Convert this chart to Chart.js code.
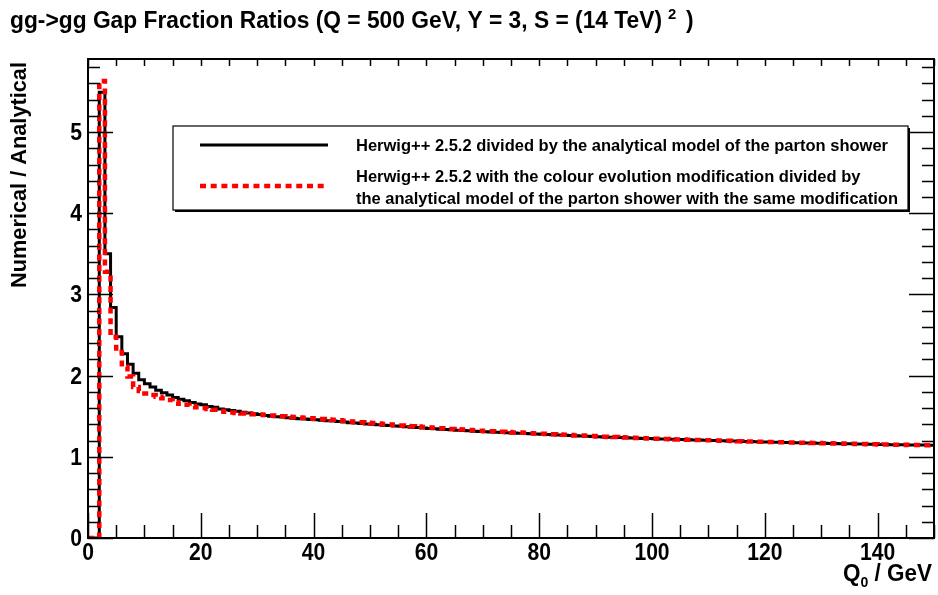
<!DOCTYPE html>
<html>
<head>
<meta charset="utf-8">
<title>gg->gg Gap Fraction Ratios</title>
<script src="https://cdn.jsdelivr.net/npm/chart.js@4.4.1/dist/chart.umd.min.js"></script>
<style>
  html, body { margin: 0; padding: 0; background: #fff; }
  #wrap { width: 938px; height: 595px; }
</style>
</head>
<body>
<div id="wrap"><canvas id="chart" width="938" height="595"></canvas></div>
<script>
// Q0 binning: 1 GeV bins from 0 to 150 GeV
const qMax = 150;
const qBinLow = Array.from({ length: qMax }, (_, i) => i);

// Herwig++ 2.5.2 / analytical parton shower model
const herwigRatio = [
  0, 0, 5.49, 3.50, 2.84, 2.48, 2.27, 2.14, 2.03, 1.95,
  1.90, 1.86, 1.82, 1.79, 1.76, 1.73, 1.71, 1.69, 1.67, 1.65,
  1.64, 1.62, 1.61, 1.59, 1.58, 1.57, 1.56, 1.55, 1.54, 1.53,
  1.52, 1.51, 1.50, 1.495, 1.49, 1.48, 1.475, 1.47, 1.465, 1.46,
  1.455, 1.45, 1.445, 1.44, 1.435, 1.43, 1.42, 1.415, 1.41, 1.405,
  1.40, 1.395, 1.39, 1.385, 1.38, 1.375, 1.37, 1.365, 1.36, 1.355,
  1.35, 1.345, 1.34, 1.336, 1.332, 1.328, 1.324, 1.32, 1.316, 1.312,
  1.308, 1.305, 1.302, 1.299, 1.296, 1.293, 1.29, 1.287, 1.284, 1.281,
  1.278, 1.275, 1.272, 1.269, 1.266, 1.263, 1.26, 1.257, 1.254, 1.251,
  1.248, 1.245, 1.242, 1.24, 1.237, 1.235, 1.232, 1.23, 1.227, 1.225,
  1.222, 1.22, 1.218, 1.216, 1.214, 1.212, 1.21, 1.208, 1.206, 1.204,
  1.202, 1.20, 1.198, 1.196, 1.194, 1.192, 1.19, 1.188, 1.186, 1.184,
  1.182, 1.18, 1.179, 1.177, 1.176, 1.174, 1.173, 1.171, 1.17, 1.168,
  1.167, 1.165, 1.164, 1.162, 1.161, 1.16, 1.158, 1.157, 1.156, 1.154,
  1.153, 1.152, 1.15, 1.149, 1.148, 1.147, 1.146, 1.145, 1.144, 1.143
];

// Herwig++ 2.5.2 with colour evolution / analytical model with the same modification
const colourEvoRatio = [
  0, 0, 5.63, 3.28, 2.48, 2.29, 2.11, 1.99, 1.86, 1.81,
  1.78, 1.76, 1.74, 1.72, 1.70, 1.675, 1.655, 1.64, 1.625, 1.61,
  1.60, 1.59, 1.58, 1.565, 1.555, 1.545, 1.54, 1.535, 1.53, 1.525,
  1.52, 1.515, 1.51, 1.505, 1.50, 1.495, 1.49, 1.485, 1.48, 1.475,
  1.47, 1.465, 1.46, 1.455, 1.45, 1.445, 1.435, 1.43, 1.425, 1.42,
  1.415, 1.41, 1.403, 1.398, 1.392, 1.387, 1.381, 1.377, 1.372, 1.367,
  1.362, 1.357, 1.352, 1.348, 1.344, 1.339, 1.335, 1.331, 1.327, 1.322,
  1.318, 1.315, 1.312, 1.308, 1.305, 1.301, 1.298, 1.295, 1.291, 1.288,
  1.285, 1.281, 1.278, 1.275, 1.271, 1.268, 1.264, 1.261, 1.258, 1.255,
  1.251, 1.248, 1.245, 1.243, 1.24, 1.237, 1.234, 1.232, 1.229, 1.226,
  1.223, 1.221, 1.219, 1.217, 1.214, 1.212, 1.211, 1.208, 1.206, 1.205,
  1.203, 1.20, 1.198, 1.197, 1.194, 1.193, 1.19, 1.189, 1.186, 1.185,
  1.182, 1.181, 1.178, 1.178, 1.175, 1.175, 1.172, 1.172, 1.169, 1.169,
  1.166, 1.166, 1.163, 1.163, 1.16, 1.161, 1.158, 1.158, 1.155, 1.156,
  1.152, 1.153, 1.15, 1.15, 1.147, 1.148, 1.145, 1.145, 1.142, 1.143
];

// axis ticks
const xTickLabels = [0, 20, 40, 60, 80, 100, 120, 140];
const yTickLabels = [0, 1, 2, 3, 4, 5];
const yMax = 5.9;

const titleText = 'gg->gg Gap Fraction Ratios (Q = 500 GeV, Y = 3, S = (14 TeV)';
const legendLabels = [
  ['Herwig++ 2.5.2 divided by the analytical model of the parton shower'],
  ['Herwig++ 2.5.2 with the colour evolution modification divided by',
   'the analytical model of the parton shower with the same modification']
];

const FONT = '"Liberation Sans", Arial, Helvetica, sans-serif';

// histogram -> step points (left bin edges + closing edge)
function toSteps(vals) {
  const pts = vals.map((v, i) => ({ x: qBinLow[i], y: v }));
  pts.push({ x: qMax, y: vals[vals.length - 1] });
  return pts;
}

// bold text squeezed horizontally, like the ROOT output
function squeezeText(ctx, str, x, y, size, sx, align) {
  ctx.save();
  ctx.font = 'bold ' + size + 'px ' + FONT;
  const w = ctx.measureText(str).width * sx;
  let x0 = x;
  if (align === 'right') x0 = x - w;
  else if (align === 'center') x0 = x - w / 2;
  ctx.translate(x0, y);
  ctx.scale(sx, 1);
  ctx.textAlign = 'left';
  ctx.fillStyle = '#000';
  ctx.fillText(str, 0, 0);
  ctx.restore();
  return w;
}

function naturalWidth(ctx, str, size) {
  ctx.save();
  ctx.font = 'bold ' + size + 'px ' + FONT;
  const w = ctx.measureText(str).width;
  ctx.restore();
  return w;
}

const rootFrame = {
  id: 'rootFrame',
  afterDraw(chart) {
    const ctx = chart.ctx;
    const a = chart.chartArea;
    const xs = chart.scales.x, ys = chart.scales.y;

    ctx.save();
    ctx.strokeStyle = '#000';
    ctx.fillStyle = '#000';

    // ticks
    ctx.lineWidth = 1.5;
    ctx.beginPath();
    for (let v = 0; v <= yMax + 1e-6; v += 0.2) {
      const y = Math.round(ys.getPixelForValue(v)) + 0.5;
      const major = Math.abs(v - Math.round(v)) < 1e-6;
      const len = major ? 25 : 12;
      ctx.moveTo(a.left, y); ctx.lineTo(a.left + len, y);
      ctx.moveTo(a.right, y); ctx.lineTo(a.right - len, y);
    }
    for (let v = 0; v <= qMax; v += 5) {
      const x = Math.round(xs.getPixelForValue(v)) + 0.5;
      const major = v % 20 === 0;
      ctx.moveTo(x, a.bottom); ctx.lineTo(x, a.bottom - (major ? 25 : 13));
      ctx.moveTo(x, a.top); ctx.lineTo(x, a.top + 7);
    }
    ctx.stroke();

    // frame
    ctx.lineWidth = 2;
    ctx.strokeRect(a.left, a.top, a.right - a.left, a.bottom - a.top);

    // tick labels
    const tickSx = 0.88;
    yTickLabels.forEach(v => {
      squeezeText(ctx, String(v), a.left - 6, ys.getPixelForValue(v) + 8, 24, tickSx, 'right');
    });
    xTickLabels.forEach(v => {
      squeezeText(ctx, String(v), xs.getPixelForValue(v), a.bottom + 22, 24, tickSx, 'center');
    });

    // title
    const tSize = 23;
    const tSx = 652 / naturalWidth(ctx, titleText, tSize);
    const tw = squeezeText(ctx, titleText, 10, 28, tSize, tSx, 'left');
    squeezeText(ctx, '2', 10 + tw + 6, 19, 15, tSx, 'left');
    squeezeText(ctx, ')', 10 + tw + 24, 28, tSize, tSx, 'left');

    // y axis title, rotated and pushed to the top
    const yt = 'Numerical / Analytical';
    const ySx = 226 / naturalWidth(ctx, yt, 22);
    ctx.save();
    ctx.translate(26, 288);
    ctx.rotate(-Math.PI / 2);
    squeezeText(ctx, yt, 0, 0, 22, ySx, 'left');
    ctx.restore();

    // x axis title: Q_0 / GeV, right aligned
    const xSize = 24, subSize = 15;
    const xSx = 89 / (naturalWidth(ctx, 'Q', xSize) + naturalWidth(ctx, '0', subSize) +
                      naturalWidth(ctx, ' / GeV', xSize));
    const gw = squeezeText(ctx, ' / GeV', 932, 581, xSize, xSx, 'right');
    const zw = squeezeText(ctx, '0', 932 - gw, 587, subSize, xSx, 'right');
    squeezeText(ctx, 'Q', 932 - gw - zw, 581, xSize, xSx, 'right');

    // legend box with a thin shadow
    const lx = 173, ly = 126, lw = 735, lh = 84;
    ctx.fillStyle = '#000';
    ctx.fillRect(lx + 2, ly + 2, lw, lh);
    ctx.fillStyle = '#fff';
    ctx.fillRect(lx, ly, lw, lh);
    ctx.lineWidth = 1.2;
    ctx.strokeStyle = '#000';
    ctx.strokeRect(lx, ly, lw, lh);

    const ds = chart.data.datasets;
    const sampleY = [145, 186];
    [0, 1].forEach(i => {
      ctx.save();
      ctx.beginPath();
      ctx.strokeStyle = ds[i].borderColor;
      ctx.lineWidth = ds[i].borderWidth;
      ctx.setLineDash(ds[i].borderDash || []);
      ctx.moveTo(200, sampleY[i]);
      ctx.lineTo(328, sampleY[i]);
      ctx.stroke();
      ctx.restore();
    });
    const lSize = 16;
    const lSx = 532 / naturalWidth(ctx, legendLabels[0][0], lSize);
    squeezeText(ctx, legendLabels[0][0], 356, 151, lSize, lSx, 'left');
    squeezeText(ctx, legendLabels[1][0], 356, 182, lSize, lSx, 'left');
    squeezeText(ctx, legendLabels[1][1], 356, 204, lSize, lSx, 'left');

    ctx.restore();
  }
};

new Chart(document.getElementById('chart').getContext('2d'), {
  type: 'line',
  data: {
    datasets: [
      {
        label: legendLabels[0][0],
        data: toSteps(herwigRatio),
        stepped: true,
        borderColor: '#000000',
        borderWidth: 3,
        pointRadius: 0,
        fill: false,
        order: 1
      },
      {
        label: legendLabels[1].join(' '),
        data: toSteps(colourEvoRatio),
        stepped: true,
        borderColor: '#ff0000',
        borderWidth: 4.5,
        borderDash: [6, 4.7],
        pointRadius: 0,
        fill: false,
        order: 0
      }
    ]
  },
  options: {
    responsive: false,
    animation: false,
    devicePixelRatio: 1,
    layout: { padding: { left: 88, right: 4, top: 59, bottom: 57 } },
    scales: {
      x: { type: 'linear', min: 0, max: qMax, display: false },
      y: { type: 'linear', min: 0, max: yMax, display: false }
    },
    plugins: {
      legend: { display: false },
      tooltip: { enabled: false }
    }
  },
  plugins: [rootFrame]
});
</script>
</body>
</html>
